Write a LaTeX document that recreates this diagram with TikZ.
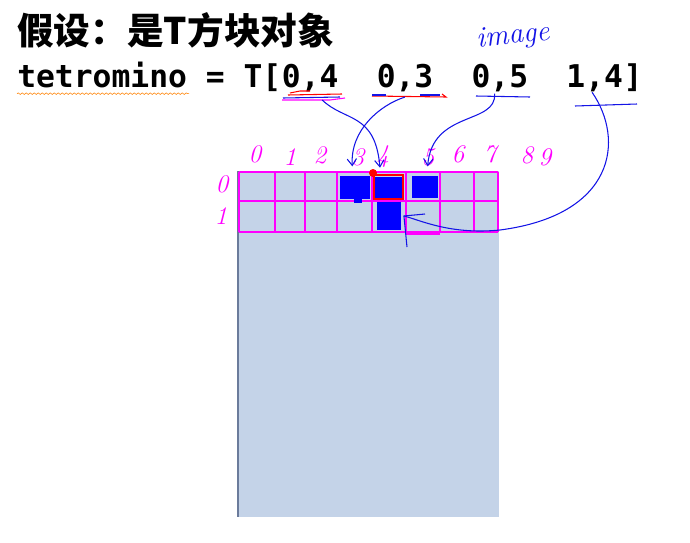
\documentclass[tikz,border=0pt]{standalone}
\usepackage{fontspec}
\setmonofont{DejaVu Sans Mono}
\newfontfamily\cjkfont{Noto Sans CJK SC}
\usepackage{tikz}
\usetikzlibrary{positioning,arrows.meta,decorations.pathmorphing}
\definecolor{penblue}{HTML}{1414E6}
\definecolor{inkpink}{HTML}{FF00FF}
\definecolor{panelblue}{HTML}{C4D3E8}
\definecolor{paneledge}{HTML}{6B7B9B}

\begin{document}
\begin{tikzpicture}[x=0.75pt, y=-0.75pt, code/.style={inner sep=0pt, font=\ttfamily\bfseries\fontsize{23.5}{28}\selectfont}, pen/.style={penblue, line width=0.8pt}, hand/.style={inkpink, inner sep=0pt, font=\itshape\fontsize{19}{20}\selectfont}, gridline/.style={inkpink, line width=2.2pt}, blk/.style={fill=blue, inner sep=0pt}, tip/.style={-{Straight Barb[length=5pt,width=7pt]}}]
  \useasboundingbox (0,0) rectangle (690,543);
  \node[anchor=base west, inner sep=0pt, font=\cjkfont\bfseries\fontsize{27.5}{30}\selectfont] (title) at (17,44) {假设：是T方块对象};
  \node[code, anchor=base west] (head) at (17,87) {tetromino = T[};
  \node[code, base right=0pt of head] (p04) {0,4};
  \node[code, base right=28.3pt of p04] (p03) {0,3};
  \node[code, base right=28.3pt of p03] (p05) {0,5};
  \node[code, base right=28.3pt of p05] (p14) {1,4};
  \node[code, base right=0pt of p14] (close) {]};
  \draw[orange, decorate, decoration={snake, amplitude=0.6pt, segment length=3pt}] ([yshift=-5pt]head.base west) -- ++(172,0);
  \node[penblue, rotate=6, inner sep=0pt, font=\itshape\fontsize{22}{24}\selectfont] (imglabel) at (513,37) {image};

  \fill[panelblue] (237,171) rectangle (499,517);
  \draw[paneledge, line width=2pt] (238,171) -- (238,517);
  \foreach \x in {239,275,305,337,372,406,440,474,498}
    \draw[gridline] (\x,172) -- (\x,232);
  \foreach \y in {172,201,232}
    \draw[gridline] (239,\y) -- (498,\y);
  \draw[gridline] (406,234) -- (440,234);

  \foreach \n/\x/\y in {0/255/154, 1/290/157, 2/320/155, 3/358/157, 4/383/157, 5/428/157, 6/458/154, 7/490/154, 8/527/155, 9/545/157}
    \node[hand] (col\n) at (\x,\y) {\n};
  \node[hand] (row0) at (222,184) {0};
  \node[hand] (row1) at (221,216) {1};

  \node[blk, minimum width=22.5pt, minimum height=17.25pt] (c03) at (355,187.5) {};
  \fill[blue] (354,198) rectangle (362,203);
  \node[blk, minimum width=21pt, minimum height=16.5pt] (c04) at (389,188) {};
  \node[blk, minimum width=19.5pt, minimum height=16.5pt] (c05) at (425,187) {};
  \node[blk, minimum width=18pt, minimum height=21pt] (c14) at (389,216) {};
  \draw[red, line width=0.8pt] (374,175) rectangle (403,199);
  \fill[red] (373,173) circle (4);

  \draw[red, line width=0.8pt] (288,95) -- (342,94) (290,93) -- (300,91) -- (310,91);
  \draw[pen] (283,98) -- (340,97);
  \draw[inkpink, line width=0.8pt] (282,100) -- (330,100) -- (345,98);
  \draw[red, line width=0.8pt] (372,96) -- (446,97) -- (442,94);
  \draw[pen] (372,95) -- (386,95) (420,95) -- (440,95);
  \draw[pen] (476,96) -- (530,97);
  \draw[pen] (575,106) -- (637,104);

  \draw[pen, tip] ([xshift=9pt, yshift=-9.75pt]p04.base) .. controls (345,122) and (375,112) .. ([xshift=-6.75pt, yshift=6.75pt]c04.north);
  \draw[pen, tip] ([yshift=-7.5pt]p03.base) .. controls (380,105) and (350,130) .. ([xshift=-2pt, yshift=7pt]c03.north);
  \draw[pen, tip] ([xshift=-4pt, yshift=-5pt]p05.base) .. controls (497,125) and (432,110) .. ([xshift=2pt, yshift=7pt]c05.north);
  \coordinate (hook) at ([xshift=2pt]c14.east);
  \draw[pen] ([xshift=-2pt, yshift=-4pt]p14.base) .. controls (625,140) and (615,215) .. (500,230) .. controls (450,235) and (420,220) .. (hook);
  \draw[pen] (425,214) -- (hook) -- (407,247);
\end{tikzpicture}
\end{document}
